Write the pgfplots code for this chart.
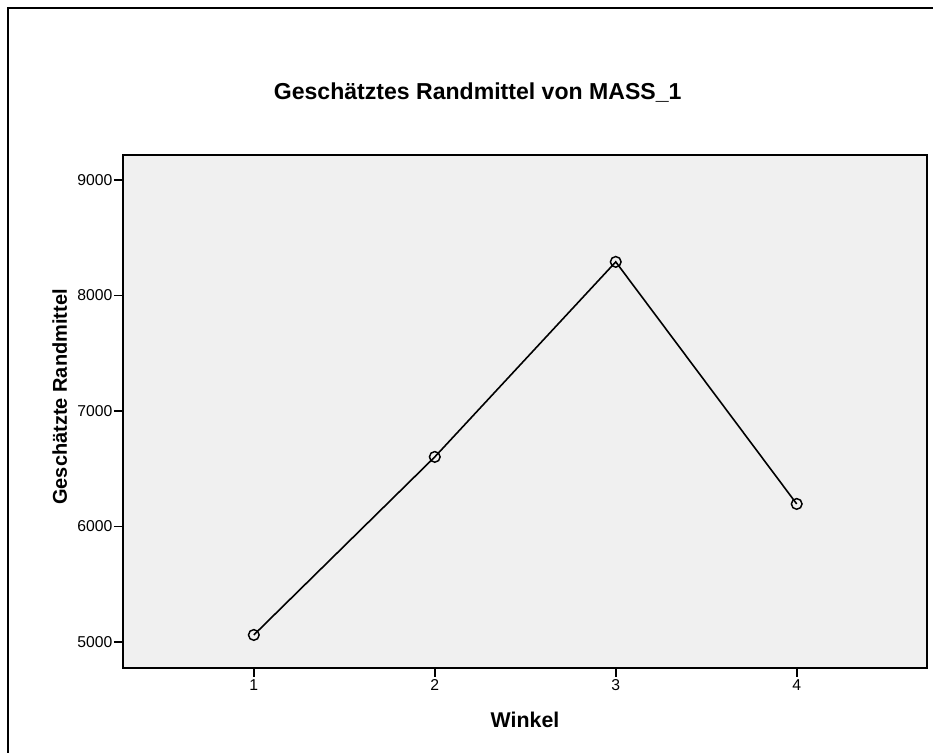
\documentclass[border=0pt]{standalone}
\usepackage{fontspec}
\setmainfont{Liberation Sans}
\usepackage{pgfplots}
\pgfplotsset{compat=1.18}
\definecolor{plotbg}{HTML}{F0F0F0}

\begin{document}
\begin{tikzpicture}
\useasboundingbox (-92.25pt,-63.75pt) rectangle (607.5pt,501pt);
% outer frame (left and top edges visible)
\draw[line width=2pt] (-86.25pt,-80pt) -- (-86.25pt,495pt) -- (620pt,495pt);
\begin{axis}[
    at={(0,0)}, anchor=south west,
    scale only axis,
    width=603pt, height=384.75pt,
    xmin=0.277, xmax=4.72,
    ymin=4775, ymax=9215,
    xtick={1,2,3,4},
    ytick={5000,6000,7000,8000,9000},
    tick pos=left,
    tick align=outside,
    major tick length=6.75pt,
    axis background/.style={fill=plotbg},
    axis line style={line width=1.2pt},
    every tick/.style={line width=1.2pt, black},
    /pgf/number format/assume math mode=true,
    /pgf/number format/1000 sep={},
    tick label style={font=\fontsize{11.8}{14}\selectfont},
    yticklabel style={inner sep=1pt},
    xticklabel style={inner sep=2pt},
]
\addplot[black, line width=1.2pt, mark=o, mark size=4pt,
    mark options={line width=1.1pt}]
    coordinates {
        (1, 5061)
        (2, 6602)
        (3, 8290)
        (4, 6195)
    };
\end{axis}
\node[anchor=base, font=\bfseries\fontsize{17.3}{20}\selectfont] at (266pt,426pt) {Geschätztes Randmittel von MASS\_1};
\node[anchor=base, rotate=90, font=\bfseries\fontsize{15}{18}\selectfont] at (-42pt,203.25pt) {Geschätzte Randmittel};
\node[anchor=base, font=\bfseries\fontsize{16}{18}\selectfont] at (301.5pt,-45pt) {Winkel};
\end{tikzpicture}
\end{document}
